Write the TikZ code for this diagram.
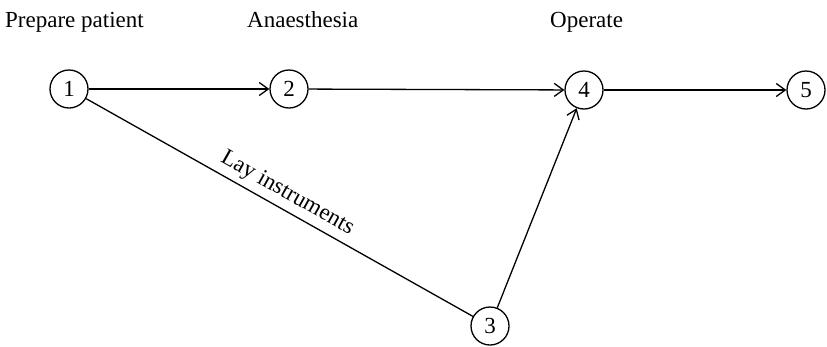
\documentclass[tikz,border=0pt]{standalone}
\usepackage{fontspec}
\setmainfont{Liberation Serif}
\usetikzlibrary{arrows.meta}
\begin{document}
\begin{tikzpicture}[x=1pt,y=-1pt,
  event/.style={circle,draw,line width=1.3pt,minimum size=38pt,inner sep=0pt,font=\fontsize{23}{26}\selectfont},
  lbl/.style={font=\fontsize{23}{26}\selectfont,inner sep=0pt},
  act/.style={line width=1.3pt,-{Straight Barb[length=9pt,width=13pt,line width=1.3pt]}},
  plain/.style={line width=1.3pt}]
\useasboundingbox (0,0) rectangle (827,346);
\node[event] (n1) at (69,89) {1};
\node[event] (n2) at (289,89) {2};
\node[event] (n4) at (584,90) {4};
\node[event] (n5) at (806,90) {5};
\node[event] (n3) at (490,326) {3};
\node[lbl,anchor=base west] (t1) at (5,27) {Prepare patient};
\node[lbl,anchor=base west] (t2) at (247,27) {Anaesthesia};
\node[lbl,anchor=base west] (t4) at (550,27) {Operate};
\draw[act] (n1) -- (n2);
\draw[act] (n2) -- (n4);
\draw[act] (n4) -- (n5);
\draw[act] (n3) -- (n4);
\draw[plain] (n1) -- node[lbl,midway,sloped,above=5pt] (t3) {Lay instruments} (n3);
\end{tikzpicture}
\end{document}
